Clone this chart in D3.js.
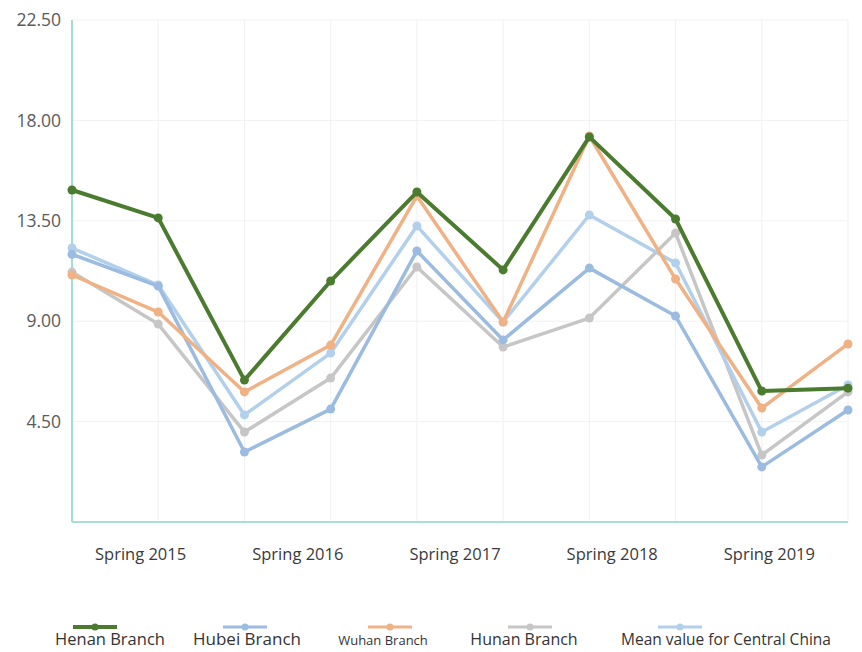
<!DOCTYPE html>
<html>
<head>
	<meta charset="utf-8">
	<title>Branches</title>
	<style type="text/css">
		body {
			margin: 0;
			background-color: #fff;
		}
		svg {
			display: block;
			font-family: 'Open Sans', sans-serif;
		}
		.grid line {
			stroke: #f1f1f1;
			stroke-width: 1px;
		}
		.yLabel {
			font-size: 17.5px;
			fill: #5a5a5a;
		}
		.legendText {
			fill: #333;
		}
	</style>
	<script type="text/javascript" src="https://cdn.jsdelivr.net/npm/d3@7"></script>
</head>
<body>
	<div id="chart"></div>
	<script type="text/javascript">
		// spring + autumn for each year, 10 points
		var periods = ['Spring 2015', 'Autumn 2015', 'Spring 2016', 'Autumn 2016', 'Spring 2017',
			'Autumn 2017', 'Spring 2018', 'Autumn 2018', 'Spring 2019', 'Autumn 2019'];
		var yearLabels = ['Spring 2015', 'Spring 2016', 'Spring 2017', 'Spring 2018', 'Spring 2019'];
		var yTicks = [4.5, 9, 13.5, 18, 22.5];

		var henan = [14.88, 13.63, 6.36, 10.80, 14.79, 11.30, 17.26, 13.58, 5.87, 6.00];
		var hubei = [12.00, 10.57, 3.14, 5.06, 12.15, 8.16, 11.38, 9.23, 2.47, 5.02];
		var wuhan = [11.07, 9.41, 5.83, 7.93, 14.61, 8.96, 17.30, 10.89, 5.11, 7.98];
		var hunan = [11.20, 8.87, 4.03, 6.45, 11.43, 7.84, 9.14, 12.95, 3.00, 5.83];
		var mean = [12.28, 10.62, 4.80, 7.57, 13.27, 8.96, 13.76, 11.61, 4.03, 6.14];

		var seriesNames = ['Henan Branch', 'Hubei Branch', 'Wuhan Branch', 'Hunan Branch', 'Mean value for Central China'];
		var seriesColors = ['#4b7b2f', '#9bbbe0', '#f0b184', '#c6c6c6', '#b2d0ec'];

		var width = 862, height = 652;
		var plotLeft = 72, plotRight = 848, plotTop = 20, plotBottom = 522;

		var svg = d3.select('#chart')
			.append('svg')
			.attr('width', width)
			.attr('height', height);

		var xScale = d3.scalePoint()
			.domain(periods)
			.range([plotLeft, plotRight]);

		var yearScale = d3.scaleBand()
			.domain(yearLabels)
			.range([plotLeft - 10, plotRight]);

		var yScale = d3.scaleLinear()
			.domain([0, 22.5])
			.range([plotBottom, plotTop]);

		// grid
		var grid = svg.append('g').attr('class', 'grid');
		grid.selectAll('.h')
			.data(yTicks)
			.enter()
			.append('line')
			.attr('x1', plotLeft)
			.attr('x2', plotRight)
			.attr('y1', function(d){ return yScale(d); })
			.attr('y2', function(d){ return yScale(d); });
		grid.selectAll('.v')
			.data(periods.slice(1))
			.enter()
			.append('line')
			.attr('x1', function(d){ return xScale(d); })
			.attr('x2', function(d){ return xScale(d); })
			.attr('y1', plotTop)
			.attr('y2', plotBottom);

		// y tick labels
		svg.selectAll('.yLabel')
			.data(yTicks)
			.enter()
			.append('text')
			.attr('class', 'yLabel')
			.attr('x', 61)
			.attr('y', function(d){ return yScale(d); })
			.attr('dy', '0.35em')
			.attr('text-anchor', 'end')
			.text(function(d){ return d3.format('.2f')(d); });

		// axis lines
		svg.append('line')
			.attr('x1', plotLeft).attr('x2', plotLeft)
			.attr('y1', yScale(22.5)).attr('y2', plotBottom)
			.attr('stroke', '#86d2c8')
			.attr('stroke-width', 1.5);
		svg.append('line')
			.attr('x1', plotLeft).attr('x2', plotRight)
			.attr('y1', plotBottom).attr('y2', plotBottom)
			.attr('stroke', '#a9ddd6')
			.attr('stroke-width', 2);

		// x labels
		var xAxis = d3.axisBottom(yearScale).tickSize(0).tickPadding(0);
		var xAxisG = svg.append('g')
			.attr('transform', 'translate(0,' + (plotBottom + 26) + ')')
			.call(xAxis);
		xAxisG.select('.domain').remove();
		xAxisG.selectAll('text')
			.attr('dy', '0.71em')
			.style('font-size', '16.5px')
			.style('font-family', "'Open Sans', sans-serif")
			.attr('fill', '#3a3a3a');

		// lines, drawn back to front
		var allSeries = [henan, hubei, wuhan, hunan, mean];
		var drawOrder = [3, 4, 1, 2, 0];
		var line = d3.line()
			.x(function(d, i){ return xScale(periods[i]); })
			.y(function(d){ return yScale(d); });

		drawOrder.forEach(function(k){
			var g = svg.append('g');
			g.append('path')
				.datum(allSeries[k])
				.attr('d', line)
				.attr('fill', 'none')
				.attr('stroke', seriesColors[k])
				.attr('stroke-width', k == 0 ? 4 : 3.5)
				.attr('stroke-linejoin', 'round');
			g.selectAll('circle')
				.data(allSeries[k])
				.enter()
				.append('circle')
				.attr('cx', function(d, i){ return xScale(periods[i]); })
				.attr('cy', function(d){ return yScale(d); })
				.attr('r', 4.5)
				.attr('fill', seriesColors[k]);
		});

		// legend
		var legendX = [95, 245, 390, 530, 680];
		var legendText = [110, 247, 383, 524, 726];
		var legendSize = [16.5, 17, 13, 16, 15.5];
		seriesNames.forEach(function(name, k){
			svg.append('line')
				.attr('x1', legendX[k] - 22).attr('x2', legendX[k] + 22)
				.attr('y1', 627).attr('y2', 627)
				.attr('stroke', seriesColors[k])
				.attr('stroke-width', k == 0 ? 4 : 3);
			svg.append('circle')
				.attr('cx', legendX[k]).attr('cy', 627)
				.attr('r', 3.5)
				.attr('fill', seriesColors[k]);
			svg.append('text')
				.attr('class', 'legendText')
				.attr('x', legendText[k])
				.attr('y', 645)
				.attr('text-anchor', 'middle')
				.style('font-size', legendSize[k] + 'px')
				.text(name);
		});
	</script>
</body>
</html>
